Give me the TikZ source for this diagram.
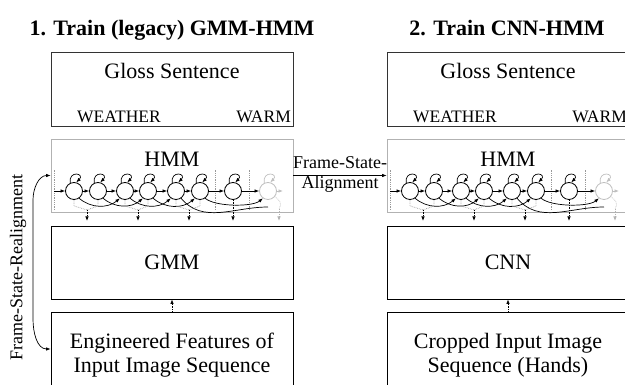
\documentclass[tikz,border=0pt]{standalone}
\usepackage{fontspec}
\setmainfont{Liberation Serif}
\usepackage{tikz}
\usetikzlibrary{arrows.meta,arrows}
\usetikzlibrary{positioning}

\tikzset{
  >={Latex[length=4.5pt,width=3.5pt]},
  box/.style={draw, line width=0.8pt, minimum width=242pt, minimum height=73pt, inner sep=0pt, align=center, font=\fontsize{22}{24}\selectfont},
  hmmbox/.style={box, draw=black!30},
  state/.style={circle, draw, line width=0.8pt, minimum size=17pt, inner sep=0pt},
  ghost/.style={state, draw=black!25},
  big/.style={font=\fontsize{22}{24}\selectfont, inner sep=0pt},
  word/.style={font=\fontsize{17.5}{20}\selectfont, inner sep=0pt},
  lbl/.style={font=\fontsize{18}{20}\selectfont, inner sep=0pt},
  ttl/.style={font=\bfseries\fontsize{22}{24}\selectfont, inner sep=0pt},
  trans/.style={->, line width=0.7pt},
  emit/.style={densely dotted, draw=black!40, line width=0.7pt},
  down/.style={->, densely dotted, line width=0.7pt},
  bound/.style={densely dotted, draw=black!40, line width=0.8pt},
}

\begin{document}
\begin{tikzpicture}[x=1pt,y=1pt]
\useasboundingbox (0,0) rectangle (625,385);
\clip (0,0) rectangle (625,385);

\node[ttl, anchor=base] (title1) at (172,349) {1. Train (legacy) GMM-HMM};
\node[ttl, anchor=base] (title2) at (507,349) {2. Train CNN-HMM};

% both columns, right one shifted
\foreach \side/\dx/\mtxt/\btxt in {l/0/GMM/{Engineered Features of\\Input Image Sequence}, r/336/CNN/{Cropped Input Image\\Sequence (Hands)}}{
\begin{scope}[xshift=\dx]
% gloss sentence
\node[box, draw=black!80, minimum height=74pt] (\side gloss) at (172,296) {};
\node[big, anchor=base] (\side glosstxt) at (172,306) {Gloss Sentence};
\node[word, anchor=base west] (\side word1) at (77,262) {WEATHER};
\node[word, anchor=base east] (\side word2) at (291,262) {WARM};

% hmm
\node[hmmbox] (\side hmm) at (172,209.5) {};
\node[big, anchor=base] (\side hmmtxt) at (172,218) {HMM};
\foreach \x in {54,215,249}
  \draw[bound] (\x,175) -- (\x,216);
\foreach \i/\x in {1/74,2/98,3/125,4/148,5/176,6/200,7/233}
  \node[state] (\side\i) at (\x,194) {};
\node[ghost] (\side8) at (268,194) {};
\coordinate (\side in) at (54,194);
\coordinate (\side out) at (283,194);
\coordinate (\side cut) at (268,178);
\coordinate (\side tip) at (172,164);

\foreach \i in {1,...,7}
  \draw[trans] (\side\i.115) .. controls +(-2,13) and +(9,9) .. (\side\i.75);
\draw[trans, black!25] (\side8.115) .. controls +(-2,13) and +(9,9) .. (\side8.75);
\draw[trans] (\side in) -- (\side1);
\foreach \i [count=\j from 2] in {1,...,7}
  \draw[trans] (\side\i) -- (\side\j);
\draw[trans, black!25] (\side8) -- (\side out);
\foreach \a/\b in {1/3,2/4,3/5,4/6}
  \draw[trans] (\side\a.-55) to[out=-40,in=-140] (\side\b.-125);
\draw[trans] (\side6.-55) to[out=-40,in=-140,looseness=0.6] (\side8.-125);
\draw[line width=0.7pt] (\side5.-55) to[out=-50,in=180] (\side cut);

% emissions
\foreach \a/\b/\m in {1/2/87,3/4/138,5/6/189}{
  \coordinate (\side m\a) at (\m,175);
  \draw[emit] (\side\a.south) -- ++(0,-6) -- (\side m\a);
  \draw[emit] (\side\b.south) -- ++(0,-6) -- (\side m\a);
  \draw[down] (\side m\a) -- (\side m\a |- \side tip);
}
\draw[down] (\side7) -- (\side7 |- \side tip);
\coordinate (\side m8) at (279,176);
\draw[emit, draw=black!25] (\side8.-40) .. controls +(6,-4) and +(3,5) .. (\side m8);
\draw[down, black!30] (\side m8) -- (\side m8 |- \side tip);

% model and input
\node[box] (\side mid) at (172,122.5) {\mtxt};
\node[box, minimum height=86pt] (\side bot) at (172,30) {\btxt};
\draw[down] (\side bot) -- (\side mid);
\end{scope}
}

\draw[trans] (lhmm.east) -- (rhmm.west)
  node[lbl, pos=.5, anchor=base, yshift=7] (fsa1) {Frame-State-}
  node[lbl, pos=.5, anchor=base, yshift=-13.5] (fsa2) {Alignment};

% realignment back to the features
\coordinate (ra1) at (33,66);
\coordinate (ra2) at (33,185);
\draw[trans, <->] ([yshift=6]lbot.west) to[out=180,in=-90] (ra1) -- (ra2) to[out=90,in=180] (lhmm.west);
\node[lbl, rotate=90] (fsr) at (18,117) {Frame-State-Realignment};
\end{tikzpicture}
\end{document}
